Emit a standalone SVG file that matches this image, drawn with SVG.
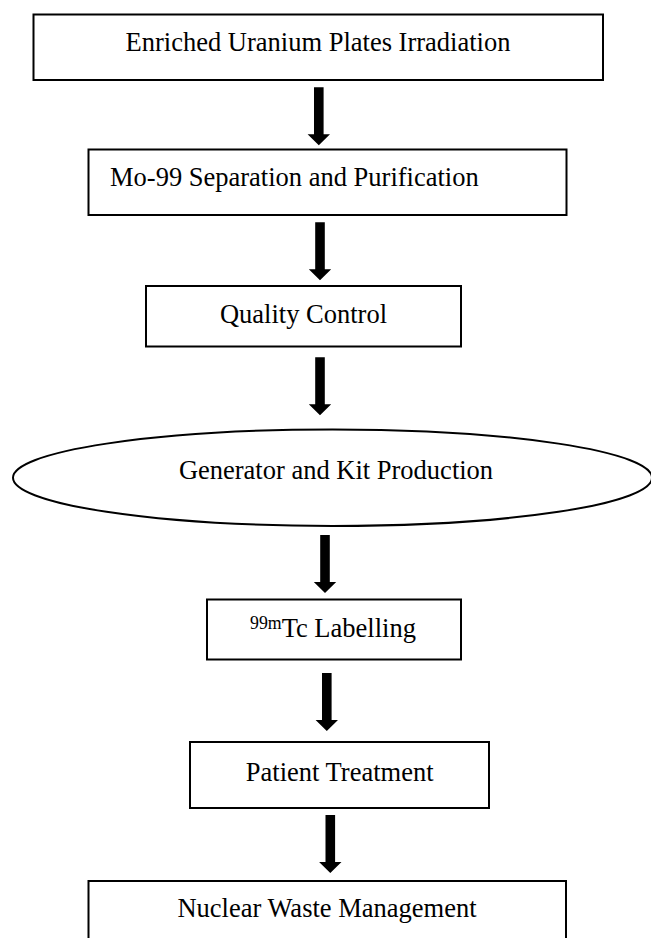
<svg xmlns="http://www.w3.org/2000/svg" xmlns:xlink="http://www.w3.org/1999/xlink" width="651" height="938" viewBox="0 0 651 938">
<style>
.box{fill:#ffffff;stroke:#000000;stroke-width:2}
.lbl{font-family:"Liberation Serif","Times New Roman",serif;font-size:26.5px;fill:#000000}
.mid{text-anchor:middle}
.arr{fill:#000000;stroke:none}
</style>
<defs>
<path id="arrow" d="M-4.8,0 H4.8 V47 H11.2 L0,58 L-11.2,47 H-4.8 Z"/>
</defs>
<rect x="0" y="0" width="651" height="938" fill="#ffffff"/>
<g id="n1">
<rect class="box" x="33.5" y="14.5" width="569.5" height="65.5"/>
<text class="lbl mid" x="318" y="51">Enriched Uranium Plates Irradiation</text>
</g>
<g id="n2">
<rect class="box" x="88.5" y="149.5" width="478" height="65.5"/>
<text class="lbl" x="110" y="186">Mo-99 Separation and Purification</text>
</g>
<g id="n3">
<rect class="box" x="146" y="286" width="315" height="60.5"/>
<text class="lbl mid" x="303.5" y="322.5">Quality Control</text>
</g>
<g id="n4">
<ellipse class="box" cx="332.5" cy="477.7" rx="319.5" ry="48.2"/>
<text class="lbl mid" x="336" y="478.5">Generator and Kit Production</text>
</g>
<g id="n5">
<rect class="box" x="207" y="599.5" width="254" height="60"/>
<text class="lbl" x="250" y="637.3"><tspan font-size="17.8" dy="-8">99m</tspan><tspan dy="8">Tc Labelling</tspan></text>
</g>
<g id="n6">
<rect class="box" x="190" y="742" width="299" height="66"/>
<text class="lbl mid" x="339.7" y="781">Patient Treatment</text>
</g>
<g id="n7">
<rect class="box" x="88.5" y="881" width="477.5" height="70"/>
<text class="lbl mid" x="327" y="917">Nuclear Waste Management</text>
</g>
<g id="connectors">
<use class="arr" xlink:href="#arrow" href="#arrow" transform="translate(318.8,87.3)"/>
<use class="arr" xlink:href="#arrow" href="#arrow" transform="translate(320,222.3)"/>
<use class="arr" xlink:href="#arrow" href="#arrow" transform="translate(320,357.3)"/>
<use class="arr" xlink:href="#arrow" href="#arrow" transform="translate(325,535)"/>
<use class="arr" xlink:href="#arrow" href="#arrow" transform="translate(326.8,673)"/>
<use class="arr" xlink:href="#arrow" href="#arrow" transform="translate(330.3,815)"/>
</g>
</svg>
